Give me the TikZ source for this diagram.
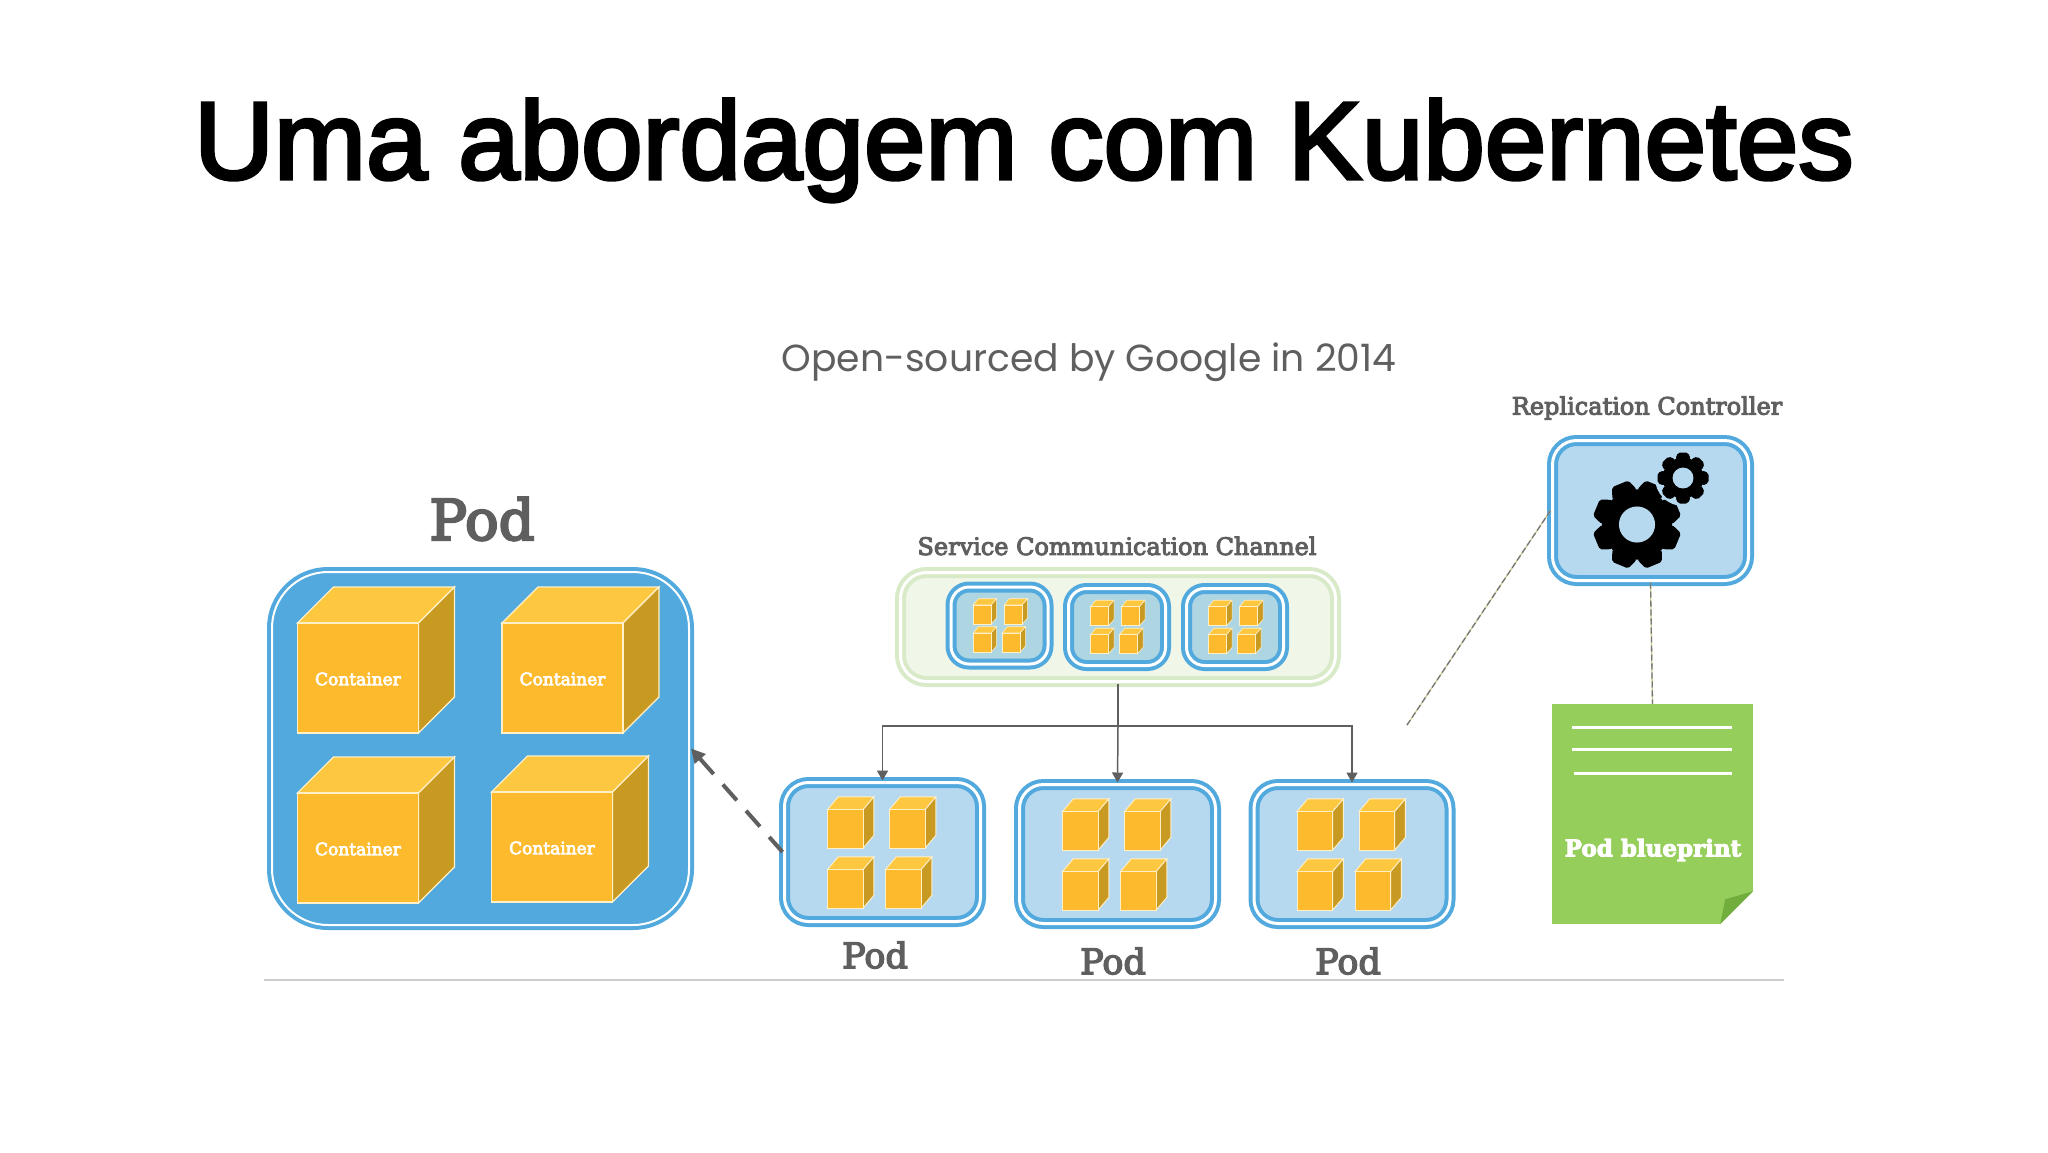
\documentclass[tikz,border=0pt]{standalone}
\usepackage{fontspec}
\usetikzlibrary{arrows.meta}
\setmainfont{DejaVu Serif}[FakeBold=4]
\newfontfamily\titlefont{Liberation Sans}[FakeBold=3]
\newfontfamily\captionfont{Poppins}
\definecolor{podblue}{HTML}{52A9DD}
\definecolor{podfill}{HTML}{B7D9EF}
\definecolor{chanfill}{HTML}{AED5E2}
\definecolor{greenedge}{HTML}{D8EAC8}
\definecolor{greenfill}{HTML}{F0F7E9}
\definecolor{boxfront}{HTML}{FDBA2C}
\definecolor{boxtop}{HTML}{FEC740}
\definecolor{boxside}{HTML}{C99A22}
\definecolor{boxedge}{HTML}{FFF0C8}
\definecolor{inkgray}{HTML}{5F5F5F}
\definecolor{sheetgreen}{HTML}{95CE5B}
\definecolor{foldgreen}{HTML}{72AE3E}
\tikzset{
  boxcube/.pic={
    \filldraw[fill=boxtop, draw=boxedge] (0,0) -- (36,-36) -- (157,-36) -- (121,0) -- cycle;
    \filldraw[fill=boxside, draw=boxedge] (121,0) -- (157,-36) -- (157,74) -- (121,110) -- cycle;
    \filldraw[fill=boxfront, draw=boxedge] (0,0) rectangle (121,110);
  },
  gearpic/.pic={
    \fill (0,0) circle (.8);
    \foreach \a in {0,45,...,315}
      \fill[rotate=\a, rounded corners=2pt] (-.3,-.74) -- (-.2,-1) -- (.2,-1) -- (.3,-.74) -- cycle;
    \fill[podfill] (0,0) circle (.41);
  }
}
\begin{document}
\begin{tikzpicture}[
        x=1pt, y=-1pt,
        podbox/.style={rectangle, draw=podblue, double=white, double distance=3pt, line width=4pt, fill=podfill, rounded corners=24pt, inner sep=0pt},
        bigbox/.style={podbox, fill=podblue, rounded corners=56pt, double distance=2pt, minimum width=417pt, minimum height=353pt},
        smallpod/.style={podbox, minimum width=196pt, minimum height=139pt},
        chanpod/.style={podbox, fill=chanfill, rounded corners=18pt, minimum width=97pt, minimum height=77pt},
        greybig/.style={text=inkgray, font=\fontsize{56}{60}\selectfont},
        greypod/.style={text=inkgray, font=\fontsize{35}{40}\selectfont},
        greyhead/.style={text=inkgray, font=\fontsize{24}{28}\selectfont},
        boxlabel/.style={text=white, font=\fontsize{17}{20}\selectfont},
        link/.style={draw=inkgray, line width=1.5pt},
        linkarrow/.style={link, -{Triangle[length=10pt, width=11pt]}},
        dasharrow/.style={draw=inkgray, line width=4pt, dash pattern=on 21pt off 14pt, {Triangle[length=14pt, width=14pt]}-},
        threadlink/.style={draw=yellow!40!gray!70, line width=1.3pt, postaction={draw=inkgray!85, dash pattern=on 6pt off 3pt}}
      ]
      \useasboundingbox (0,0) rectangle (2048,1152);
      \fill[white] (0,0) rectangle (2048,1152);
      \node[anchor=base, font=\titlefont\fontsize{110.6}{120}\selectfont] (title) at (1024,179) {Uma abordagem com Kubernetes};
      \node[anchor=base, text=inkgray, font=\captionfont\fontsize{37.7}{42}\selectfont] (subtitle) at (1089,371) {Open-sourced by Google in 2014};

      \node[bigbox] (bigpod) at (480.5,748.5) {};
      \node[greybig] (bigpodlabel) at (482,519) {Pod};
      \foreach \x/\y/\n in {297.5/623/A, 502/623/B, 297.5/793/C, 491.5/792/D} {
        \pic[line width=1.2pt] at (\x,\y) {boxcube};
        \node[boxlabel] (container\n) at (\x+60.5,\y+56) {Container};
      }

      \node[smallpod] (podA) at (882.5,852) {};
      \node[smallpod] (podB) at (1117.5,854) {};
      \node[smallpod] (podC) at (1352,854) {};
      \foreach \p in {podA, podB, podC} {
        \begin{scope}[shift={(\p.north west)}]
          \foreach \x/\y in {45/29, 107/29, 45/89, 103/89}
            \pic[xscale=.295, yscale=.35, line width=.9pt] at (\x,\y) {boxcube};
        \end{scope}
      }
      \node[greypod] (podAlabel) at (875,955) {Pod};
      \node[greypod] (podBlabel) at (1113,961) {Pod};
      \node[greypod] (podClabel) at (1348,961) {Pod};

      \node[podbox, draw=greenedge, fill=greenfill, rounded corners=26pt, minimum width=435pt, minimum height=109pt] (channel) at (1118,627) {};
      \node[greyhead] (channellabel) at (1117,546) {Service Communication Channel};
      \node[chanpod] (chanA) at (999.5,625.5) {};
      \node[chanpod] (chanB) at (1117,627) {};
      \node[chanpod] (chanC) at (1235,627) {};
      \foreach \p in {chanA, chanB, chanC} {
        \begin{scope}[shift={(\p.north west)}]
          \foreach \x/\y in {24/20, 55/20, 24/48, 53/48}
            \pic[xscale=.15, yscale=.175, line width=.6pt] at (\x,\y) {boxcube};
        \end{scope}
      }

      \coordinate (fork) at (1118,726);
      \draw[link] (channel.south) -- (fork);
      \draw[linkarrow] (fork) -| (podA.north);
      \draw[linkarrow] (fork) -- (podB.north);
      \draw[linkarrow] (fork) -| (podC.north);
      \draw[dasharrow] (bigpod.east) -- (podA.west);

      \node[podbox, minimum width=196pt, minimum height=140pt] (replica) at (1650.5,510.5) {};
      \node[greyhead] (replicalabel) at (1647,408) {Replication Controller};
      \pic[scale=44, rotate=22.5] at (1637,524.5) {gearpic};
      \fill[podfill] (1683,478) circle (28);
      \pic[scale=25.5] at (1683,478) {gearpic};

      \node[rectangle, fill=sheetgreen, minimum width=201pt, minimum height=220pt, inner sep=0pt] (blueprint) at (1652.5,814) {};
      \fill[white] (blueprint.south east) -- ++(-33,0) -- ++(33,-33) -- cycle;
      \fill[foldgreen] (blueprint.south east) ++(-33,0) -- ++(33,-33) -- ++(-28,8) -- cycle;
      \coordinate (sheetA) at (1572,727);
      \coordinate (sheetB) at (1732,727);
      \coordinate (sheetC) at (1572,749);
      \coordinate (sheetD) at (1732,749);
      \coordinate (sheetE) at (1574,773);
      \coordinate (sheetF) at (1732,773);
      \draw[white, line width=3pt] (sheetA) -- (sheetB) (sheetC) -- (sheetD) (sheetE) -- (sheetF);
      \node[text=white, font=\bfseries\fontsize{23}{26}\selectfont] (blueprintlabel) at (1653,850) {Pod blueprint};

      \coordinate (threadend) at (1407,725);
      \draw[threadlink] (threadend) -- (replica.west);
      \draw[threadlink] (replica.south) -- (blueprint.north);

      \coordinate (ruleleft) at (264,980);
      \coordinate (ruleright) at (1784,980);
      \draw[draw=black!20, line width=1.5pt] (ruleleft) -- (ruleright);
    \end{tikzpicture}
\end{document}
